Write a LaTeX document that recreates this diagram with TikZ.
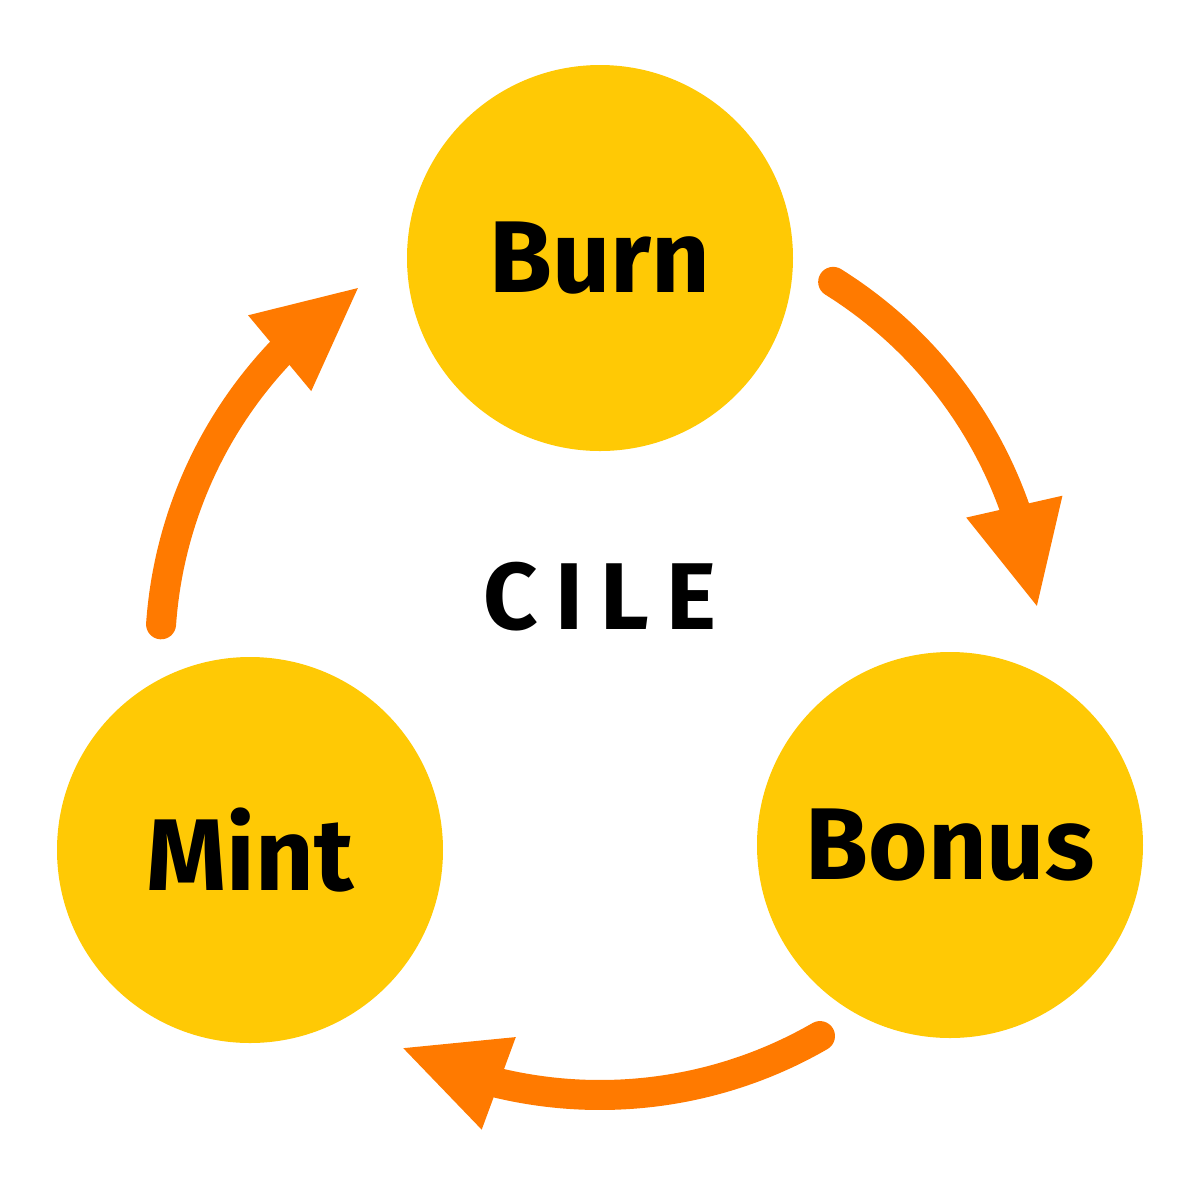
\documentclass[tikz,border=0pt]{standalone}
\usepackage{fontspec}
\setmainfont{Fira Sans}
\usetikzlibrary{arrows.meta,bending}
\definecolor{gold}{HTML}{FFC905}
\definecolor{orng}{HTML}{FF7A00}
\begin{document}
\begin{tikzpicture}[
  stage/.style={circle,fill=gold,minimum size=3.86cm,inner sep=0pt,font=\fontsize{29}{34}\selectfont\bfseries},
  cyc/.style={orng,line width=0.3cm,line cap=round,-{Triangle[length=1.05cm,width=0.9cm,flex]}}
]
\useasboundingbox (0,-12) rectangle (12,0);
\node[stage] (burn) at (6,-2.58) {Burn};
\node[stage] (bonus) at (9.5,-8.45) {Bonus};
\node[stage] (mint) at (2.5,-8.5) {Mint};
\node[font=\fontsize{27}{32}\selectfont\bfseries\addfontfeature{LetterSpace=18}] (cile) at (6,-5.97) {CILE};
\coordinate (c) at (6,-6.55);
\draw[cyc] ([shift={(58:4.4)}]c) arc[start angle=58,end angle=6,radius=4.4];
\draw[cyc] ([shift={(-60:4.4)}]c) arc[start angle=-60,end angle=-117,radius=4.4];
\draw[cyc] ([shift={(176:4.4)}]c) arc[start angle=176,end angle=123,radius=4.4];
\end{tikzpicture}
\end{document}
